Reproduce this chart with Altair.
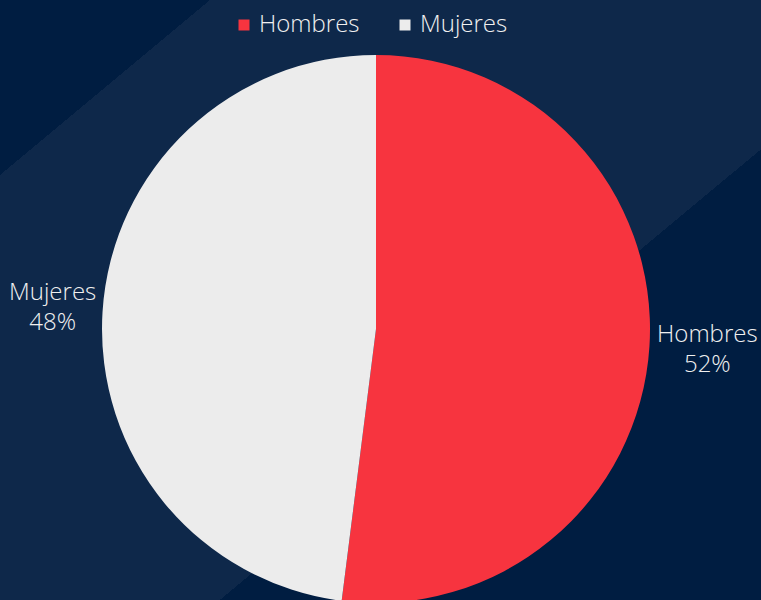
import altair as alt
import pandas as pd

categories = ["Hombres", "Mujeres"]
values = [52, 48]
colors = ["#f7343f", "#ececec"]

df = pd.DataFrame({"cat": categories, "val": values, "order": [0, 1]})
df["label"] = df["cat"] + "\n" + df["val"].astype(str) + "%"

W, H = 761, 600
CX, CY, R = 376, 329, 274

dark = "#001d41"
light = "#0e284a"
txt = "#f0f0f0"
FONT = "Open Sans"
FS = 24
FW = 300

bg = alt.Chart(pd.DataFrame({"a": [0]})).mark_rect(
    color=alt.Gradient(
        gradient="linear",
        x1=0, y1=0, x2=1.0267, y2=0.9718,
        stops=[
            alt.GradientStop(color=dark, offset=0),
            alt.GradientStop(color=dark, offset=0.1418),
            alt.GradientStop(color=light, offset=0.1418),
            alt.GradientStop(color=light, offset=0.6347),
            alt.GradientStop(color=dark, offset=0.6347),
            alt.GradientStop(color=dark, offset=1),
        ],
    )
).encode(x=alt.value(0), x2=alt.value(W), y=alt.value(0), y2=alt.value(H))

base = alt.Chart(df).encode(
    theta=alt.Theta("val:Q", stack=True),
    order=alt.Order("order:Q"),
)

pie = base.mark_arc(outerRadius=R).encode(
    x=alt.value(CX),
    y=alt.value(CY),
    color=alt.Color(
        "cat:N",
        scale=alt.Scale(domain=categories, range=colors),
        legend=alt.Legend(
            title=None,
            orient="none",
            legendX=232,
            legendY=13,
            direction="horizontal",
            symbolType="square",
            symbolSize=121,
            symbolStrokeWidth=0,
            labelFontSize=FS,
            labelFont=FONT,
            labelFontWeight=FW,
            labelColor=txt,
            labelOffset=3,
            columnPadding=33,
        ),
    ),
)

labels = base.mark_text(
    radius=328,
    fontSize=FS,
    font=FONT,
    fontWeight=FW,
    color=txt,
    align="center",
    baseline="middle",
    lineBreak="\n",
    lineHeight=30,
    dx=4,
    dy=-15,
).encode(
    x=alt.value(CX),
    y=alt.value(CY),
    text="label:N",
)

chart = alt.layer(bg, pie, labels).properties(
    width=W,
    height=H,
    padding=0,
    autosize=alt.AutoSizeParams(type="none"),
    background=dark,
).configure_view(stroke=None)

chart.save("out.html", embed_options={"renderer": "svg", "actions": False})
